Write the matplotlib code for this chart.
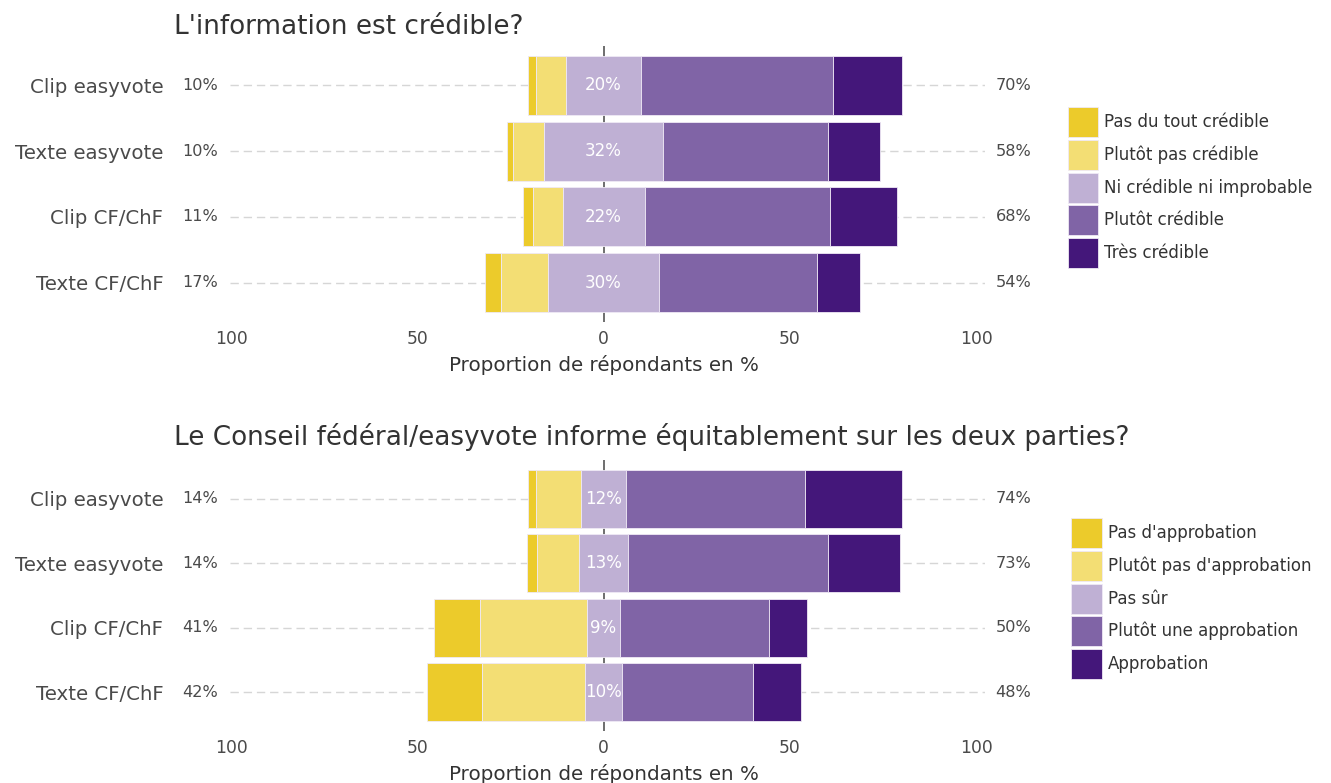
import matplotlib
matplotlib.use("Agg")
import matplotlib.pyplot as plt
from matplotlib.patches import Rectangle
import numpy as np

plt.rcParams['font.family'] = ['DejaVu Sans']

# ---------------- data ----------------
categories = ["Clip easyvote", "Texte easyvote", "Clip CF/ChF", "Texte CF/ChF"]

q1_title = "L'information est crédible?"
q1_levels = ["Pas du tout crédible", "Plutôt pas crédible", "Ni crédible ni improbable",
             "Plutôt crédible", "Très crédible"]
q1_l1 = [2.3, 1.8, 2.7, 4.3]
q1_l2 = [8.0, 8.2, 8.0, 12.5]
q1_l3 = [20.0, 32.0, 22.0, 30.0]
q1_l4 = [51.7, 44.2, 49.8, 42.4]
q1_l5 = [18.3, 14.1, 17.9, 11.5]

q2_title = "Le Conseil fédéral/easyvote informe équitablement sur les deux parties?"
q2_levels = ["Pas d'approbation", "Plutôt pas d'approbation", "Pas sûr",
             "Plutôt une approbation", "Approbation"]
q2_l1 = [2.1, 2.7, 12.2, 14.7]
q2_l2 = [12.2, 11.4, 28.7, 27.6]
q2_l3 = [12.0, 13.0, 9.0, 10.0]
q2_l4 = [48.1, 53.8, 39.8, 35.2]
q2_l5 = [26.1, 19.3, 10.4, 12.8]

xticks = [-100, -50, 0, 50, 100]
xtick_labels = ["100", "50", "0", "50", "100"]
xlabel = "Proportion de répondants en %"

colors = ["#ECCB2B", "#F3DE74", "#BFB0D4", "#8064A6", "#44177A"]
edge = "#efe9f5"
txt = "#4a4a4a"

W, H = 1331, 783
fig = plt.figure(figsize=(W / 100, H / 100), dpi=100)


def px_axes(x0, y0, x1, y1):
    return fig.add_axes([x0 / W, 1 - y1 / H, (x1 - x0) / W, (y1 - y0) / H])


def draw_legend(levels, x0, y0, pitch=32.65, sq_w=30.5, sq_h=30.0, text_gap=6.5):
    for i, (lab, c) in enumerate(zip(levels, colors)):
        top = y0 + i * pitch
        fig.add_artist(Rectangle((x0 / W, 1 - (top + sq_h) / H), sq_w / W, sq_h / H,
                                 transform=fig.transFigure, facecolor=c,
                                 edgecolor=edge, lw=0.6))
        fig.text((x0 + sq_w + text_gap) / W, 1 - (top + sq_h / 2) / H, lab,
                 ha="left", va="center", fontsize=12, color="#333333")


def panel(ax, title, levels, l1, l2, l3, l4, l5, title_pad):
    n = len(categories)
    y = np.arange(n)[::-1] + 1.0
    l1, l2, l3, l4, l5 = map(np.array, (l1, l2, l3, l4, l5))
    h = 0.9
    ax.set_xlim(-100.27, 102.4)
    ax.set_ylim(0.4, n + 0.6)
    for yy in y:
        ax.axhline(yy, color="#d6d6d6", lw=1.0, ls=(0, (6, 3.5)), zorder=0)
    ax.axvline(0, color="#555555", lw=1.2, zorder=1)
    starts = [-l3 / 2 - l2 - l1, -l3 / 2 - l2, -l3 / 2, l3 / 2, l3 / 2 + l4]
    widths = [l1, l2, l3, l4, l5]
    for s, w, c in zip(starts, widths, colors):
        ax.barh(y, w, left=s, height=h, color=c, edgecolor=edge, lw=0.6, zorder=2)
    for yy, v in zip(y, l3):
        ax.text(0, yy, f"{round(v):d}%", color="white", ha="center", va="center",
                fontsize=12, zorder=3)
    left_tot = l1 + l2
    right_tot = l4 + l5
    for yy, lv, rv in zip(y, left_tot, right_tot):
        ax.text(-108.4, yy, f"{round(lv):d}%", color=txt, ha="center", va="center",
                fontsize=11.6, clip_on=False)
        ax.text(110.0, yy, f"{round(rv):d}%", color=txt, ha="center", va="center",
                fontsize=11.6, clip_on=False)
    ax.set_yticks(y)
    ax.set_yticklabels(categories, fontsize=14.2, color=txt)
    ax.tick_params(axis="y", length=0, pad=48)
    ax.set_xticks(xticks)
    ax.set_xticklabels(xtick_labels, fontsize=12.3, color=txt)
    ax.tick_params(axis="x", length=0, pad=6)
    ax.set_xlabel(xlabel, fontsize=14.3, color="#333333", labelpad=5)
    ax.xaxis.label.set_x((604 - 230) / 755)
    for sp in ax.spines.values():
        sp.set_visible(False)
    ax.set_title(title, loc="left", fontsize=18.9, color="#333333", pad=title_pad,
                 x=(174 - 230) / 755)


ax1 = px_axes(230, 46, 985, 322)
panel(ax1, q1_title, q1_levels, q1_l1, q1_l2, q1_l3, q1_l4, q1_l5, 9)
draw_legend(q1_levels, 1067.5, 107.3)

ax2 = px_axes(230, 460, 985, 731)
panel(ax2, q2_title, q2_levels, q2_l1, q2_l2, q2_l3, q2_l4, q2_l5, 11)
draw_legend(q2_levels, 1071, 518.3)

fig.savefig("out.png", dpi=100, facecolor="white")
